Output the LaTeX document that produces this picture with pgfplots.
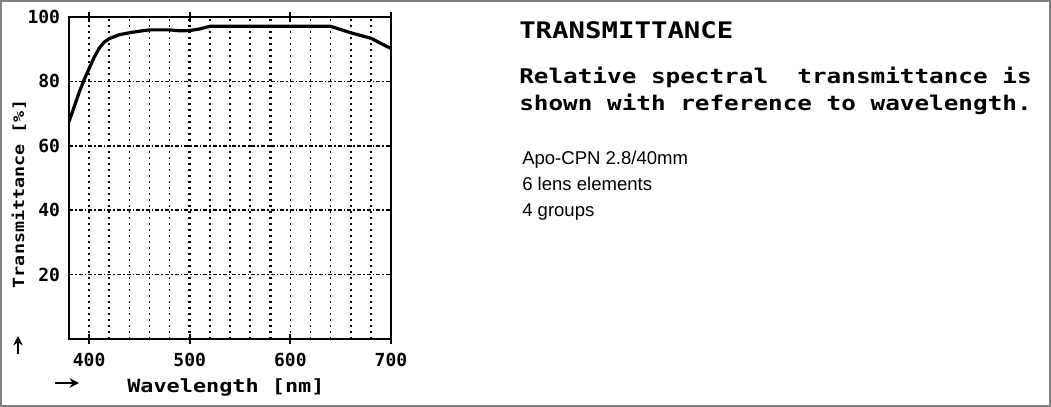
\documentclass[border=0pt]{standalone}
\usepackage{fontspec}
\usepackage{pgfplots}
\pgfplotsset{compat=1.18}
\usetikzlibrary{arrows.meta}
\setmainfont{Liberation Sans}
\newfontfamily\pf[FakeStretch=1.2]{DejaVu Sans Mono}
\newfontfamily\tf{DejaVu Sans Mono}
\definecolor{framegray}{RGB}{128,128,128}
\begin{document}
\begin{tikzpicture}
\useasboundingbox (0pt,0pt) rectangle (788.25pt,-305.25pt);
\begin{axis}[
  at={(51.75pt,-254.25pt)}, anchor=south west,
  scale only axis, width=241.5pt, height=241.5pt,
  xmin=380, xmax=700, ymin=0, ymax=100,
  axis line style={line width=2.2pt},
  xtick={400,500,600,700},
  ytick={20,40,60,80,100},
  minor xtick={400,420,...,680},
  xminorgrids=true,
  ymajorgrids=true,
  minor grid style={black, line width=1.2pt, dash pattern=on 1.5pt off 3pt},
  major grid style={black, line width=1.2pt, dash pattern=on 3pt off 1.5pt on 1.2pt off 1.5pt},
  minor tick length=0pt,
  tick align=center,
  major tick length=7pt,
  xtick style={black, line width=1.6pt},
  ytick style={draw=none},
  tick label style={font=\tf\bfseries\fontsize{13.5pt}{14pt}\selectfont},
  /pgf/number format/assume math mode=true,
  xticklabel style={inner sep=0pt, anchor=north, yshift=-7pt},
  yticklabel style={inner sep=0pt, anchor=east, xshift=-3pt},
  extra x ticks={500,580},
  extra x tick labels={},
  extra x tick style={major tick length=0pt, grid=major, major grid style={black, line width=2pt, dash pattern=on 1.5pt off 3pt}},
]
\addplot[black, line width=2.4pt, line join=round] coordinates {
(380,67.5) (385,72) (390,76.5) (395,80.5) (400,84) (405,87.5) (410,90.3)
(415,92.2) (420,93.3) (430,94.5) (440,95.1) (450,95.6) (460,96) (480,96)
(490,95.7) (500,95.8) (510,96.3) (520,97.1) (640,97.1) (650,96.1)
(660,95.1) (680,93.4) (700,90.2)
};
\end{axis}
\begin{scope}[x=0.75pt, y=-0.75pt]
\draw[framegray, line width=1.1pt] (1,1) rectangle (1050,406);
\node[anchor=base west, inner sep=0pt, font=\pf\bfseries\fontsize{17.1pt}{20pt}\selectfont] at (519,38) {TRANSMITTANCE};
\node[anchor=base west, inner sep=0pt, font=\pf\bfseries\fontsize{15.2pt}{18pt}\selectfont] at (519,83) {Relative spectral~ transmittance is};
\node[anchor=base west, inner sep=0pt, font=\pf\bfseries\fontsize{15.2pt}{18pt}\selectfont] at (519,110) {shown with reference to wavelength.};
\node[anchor=base west, inner sep=0pt, font=\fontsize{13.9pt}{16pt}\selectfont] at (522,164) {Apo-CPN 2.8/40mm};
\node[anchor=base west, inner sep=0pt, font=\fontsize{13.9pt}{16pt}\selectfont] at (522,190) {6 lens elements};
\node[anchor=base west, inner sep=0pt, font=\fontsize{13.9pt}{16pt}\selectfont] at (522,216) {4 groups};
\node[rotate=90, inner sep=0pt, font=\pf\bfseries\fontsize{11.5pt}{13pt}\selectfont] at (19,194) {Transmittance [\%]};
\node[anchor=base west, inner sep=0pt, font=\pf\bfseries\fontsize{13.65pt}{16pt}\selectfont] at (127,392) {Wavelength [nm]};
\draw[line width=1.8pt, -{Stealth[length=7pt,width=7pt]}] (55,383) -- (79,383);
\draw[line width=1.8pt, -{Stealth[length=7pt,width=7pt]}] (18,354) -- (18,336);
\end{scope}
\end{tikzpicture}
\end{document}
